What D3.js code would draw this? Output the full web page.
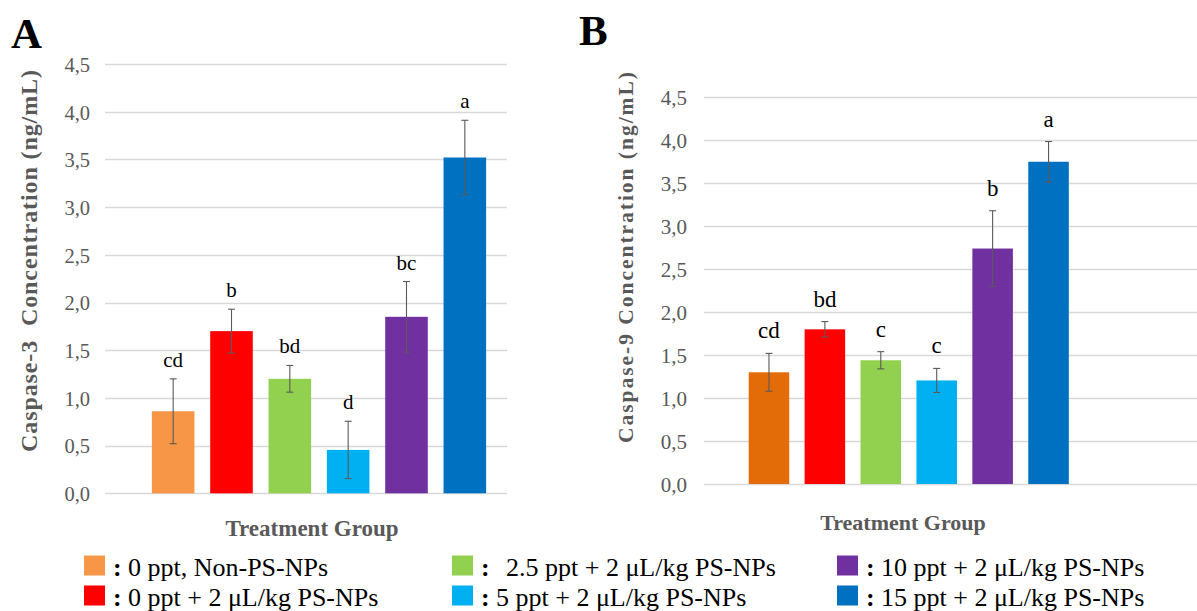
<!DOCTYPE html>
<html>
<head>
<meta charset="utf-8">
<script src="https://cdn.jsdelivr.net/npm/d3@7"></script>
<style>
  html, body { margin: 0; padding: 0; background: #fff; }
  svg { display: block; }
  svg text { font-family: "Liberation Serif", "Times New Roman", serif; }
</style>
</head>
<body>
<svg id="chart" width="1197" height="611"></svg>
<script>
// ---------- data ----------
const categories = [
  "0 ppt, Non-PS-NPs",
  "0 ppt + 2 \u03bcL/kg PS-NPs",
  "2.5 ppt + 2 \u03bcL/kg PS-NPs",
  "5 ppt + 2 \u03bcL/kg PS-NPs",
  "10 ppt + 2 \u03bcL/kg PS-NPs",
  "15 ppt + 2 \u03bcL/kg PS-NPs"
];
const caspase3 = [0.86, 1.70, 1.20, 0.455, 1.85, 3.52];
const caspase3Err = [0.34, 0.23, 0.14, 0.30, 0.37, 0.39];
const caspase3Letters = ["cd", "b", "bd", "d", "bc", "a"];
const caspase9 = [1.30, 1.80, 1.44, 1.205, 2.74, 3.75];
const caspase9Err = [0.22, 0.09, 0.10, 0.14, 0.44, 0.235];
const caspase9Letters = ["cd", "bd", "c", "c", "b", "a"];
const yTicks = [0, 0.5, 1.0, 1.5, 2.0, 2.5, 3.0, 3.5, 4.0, 4.5];
const colorsA = ["#F79646", "#FF0000", "#92D050", "#00B0F0", "#7030A0", "#0070C0"];
const colorsB = ["#E36C09", "#FF0000", "#92D050", "#00B0F0", "#7030A0", "#0070C0"];

const svg = d3.select("#chart");
const fmt = v => d3.format(".1f")(v).replace(".", ",");

function panel(cfg) {
  const g = svg.append("g");
  const y = d3.scaleLinear().domain([0, 4.5]).range([cfg.y0, cfg.y1]);
  const x = d3.scaleBand().domain(categories).range(cfg.xRange)
    .paddingInner(cfg.pad).paddingOuter(cfg.pad / 2);

  // gridlines
  g.append("g").selectAll("line").data(yTicks).join("line")
    .attr("x1", cfg.gridX[0]).attr("x2", cfg.gridX[1])
    .attr("y1", d => Math.round(y(d)) + 0.5).attr("y2", d => Math.round(y(d)) + 0.5)
    .attr("stroke", "#d9d9d9").attr("stroke-width", 1.3);

  // y axis labels via d3 axis
  const ax = g.append("g").attr("transform", `translate(${cfg.tickX},0)`)
    .call(d3.axisLeft(y).tickValues(yTicks).tickFormat(fmt).tickSize(0).tickPadding(0));
  ax.attr("font-family", null).attr("font-size", cfg.tickSize);
  ax.select(".domain").remove();
  ax.selectAll("text").attr("fill", "#595959").attr("font-size", cfg.tickSize)
    .attr("dy", "0.36em");

  const vals = cfg.values;
  // bars
  g.append("g").selectAll("rect").data(categories).join("rect")
    .attr("x", d => x(d)).attr("width", x.bandwidth())
    .attr("y", (d, i) => y(vals[i])).attr("height", (d, i) => y(0) - y(vals[i]))
    .attr("fill", (d, i) => cfg.colors[i]);

  // error bars
  const eb = g.append("g").attr("stroke", "#5a5a5a").attr("stroke-width", 1.1);
  categories.forEach((c, i) => {
    const cx = x(c) + x.bandwidth() / 2;
    const top = y(vals[i] + cfg.err[i]), bot = y(vals[i] - cfg.err[i]);
    eb.append("line").attr("x1", cx).attr("x2", cx).attr("y1", top).attr("y2", bot);
    eb.append("line").attr("x1", cx - 3.5).attr("x2", cx + 3.5).attr("y1", top).attr("y2", top);
    eb.append("line").attr("x1", cx - 3.5).attr("x2", cx + 3.5).attr("y1", bot).attr("y2", bot);
  });

  // significance letters
  g.append("g").selectAll("text").data(categories).join("text")
    .attr("x", d => x(d) + x.bandwidth() / 2)
    .attr("y", (d, i) => y(vals[i] + cfg.err[i]) - cfg.letterGap)
    .attr("text-anchor", "middle").attr("font-size", cfg.letterSize).attr("fill", "#000")
    .text((d, i) => cfg.letters[i]);

  // x axis title
  g.append("text").attr("x", cfg.xTitle[0]).attr("y", cfg.xTitle[1])
    .attr("text-anchor", "middle").attr("font-weight", "bold").attr("fill", "#595959")
    .attr("font-size", cfg.xTitleSize).text("Treatment Group");

  // y axis title
  g.append("text")
    .attr("transform", `translate(${cfg.yTitle[0]},${cfg.yTitle[1]}) rotate(-90)`)
    .attr("text-anchor", "middle").attr("font-weight", "bold").attr("fill", "#595959")
    .attr("font-size", cfg.yTitleSize)
    .attr("textLength", cfg.yTitleLen).attr("lengthAdjust", "spacing")
    .style("white-space", "pre")
    .text(cfg.yTitleText);

  // panel letter
  g.append("text").attr("x", cfg.panelPos[0]).attr("y", cfg.panelPos[1])
    .attr("font-weight", "bold").attr("font-size", 43).attr("fill", "#000")
    .text(cfg.panel);
}

panel({
  panel: "A", panelPos: [11, 48],
  y0: 493.3, y1: 64, xRange: [144, 494], pad: 0.27, gridX: [105, 507], tickX: 90,
  tickSize: 20.5, values: caspase3, err: caspase3Err, letters: caspase3Letters,
  colors: colorsA, letterGap: 12, letterSize: 21,
  xTitle: [312, 536], xTitleSize: 23,
  yTitle: [37, 261], yTitleSize: 24, yTitleLen: 382,
  yTitleText: "Caspase-3  Concentration (ng/mL)"
});

panel({
  panel: "B", panelPos: [579, 45],
  y0: 484, y1: 97.3, xRange: [741, 1076.5], pad: 0.275, gridX: [704, 1197], tickX: 687,
  tickSize: 21, values: caspase9, err: caspase9Err, letters: caspase9Letters,
  colors: colorsB, letterGap: 15, letterSize: 23,
  xTitle: [903, 530], xTitleSize: 22,
  yTitle: [633, 257.5], yTitleSize: 21.5, yTitleLen: 371,
  yTitleText: "Caspase-9 Concentration (ng/mL)"
});

// ---------- legend ----------
const legCols = [84, 452, 837];
const legRows = [555.5, 585.5];
const legend = svg.append("g").attr("font-size", 26).attr("fill", "#000");
categories.forEach((c, i) => {
  const col = Math.floor(i / 2), row = i % 2;
  const sx = legCols[col], sy = legRows[row];
  legend.append("rect").attr("x", sx).attr("y", sy).attr("width", 21).attr("height", 20)
    .attr("fill", colorsA[i]);
  const t = legend.append("text").attr("y", sy + 20);
  t.append("tspan").attr("x", sx + 29).attr("font-weight", "bold").text(":");
  t.append("tspan").attr("x", sx + 44 + (i === 2 ? 10 : 0)).text(c);
});
</script>
</body>
</html>
